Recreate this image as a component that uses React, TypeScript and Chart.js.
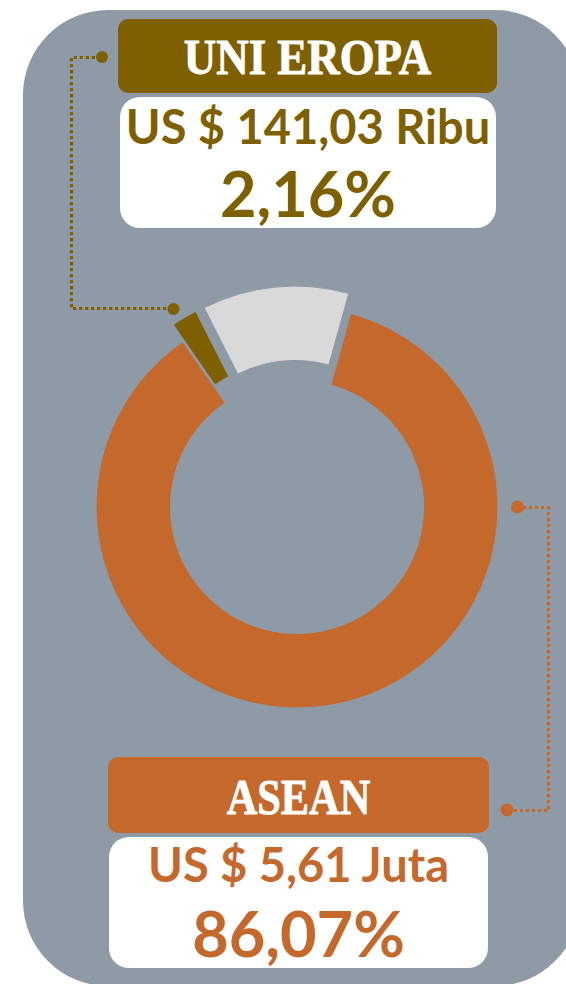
import React, { useEffect, useRef } from "react";
import { Chart, registerables } from "chart.js";

Chart.register(...registerables);

// ---- data ----
const categories = ["ASEAN", "UNI EROPA", "Lainnya"];
const shares = [86.07, 2.16, 11.77];
const valueTexts = ["US $ 5,61 Juta", "US $ 141,03 Ribu", ""];
const segmentColors = ["#C4682B", "#7F6000", "#D9D9D9"];
const explodeDistance = [0, 20, 20];

const BG = "#8F9AA7";
const fmtPct = (v: number) => v.toFixed(2).replace(".", ",") + "%";

const abs = (s: React.CSSProperties): React.CSSProperties => ({ position: "absolute", ...s });

// pulls selected slices straight out along their mid-angle (pure translation)
const explodePlugin = {
  id: "explodeSlices",
  afterDatasetUpdate(chart: any, args: any) {
    const meta = chart.getDatasetMeta(args.index);
    meta.data.forEach((el: any, i: number) => {
      const d = explodeDistance[i] || 0;
      if (!d || el.__exploded) return;
      const orig = el.draw;
      el.draw = function (ctx: CanvasRenderingContext2D) {
        const half = (this.startAngle + this.endAngle) / 2;
        ctx.save();
        ctx.translate(Math.cos(half) * d, Math.sin(half) * d);
        orig.call(this, ctx);
        ctx.restore();
      };
      el.__exploded = true;
    });
  },
};

function Doughnut() {
  const ref = useRef<HTMLCanvasElement | null>(null);
  useEffect(() => {
    if (!ref.current) return;
    const chart = new Chart(ref.current, {
      type: "doughnut",
      data: {
        labels: categories,
        datasets: [
          {
            data: shares,
            backgroundColor: segmentColors,
            borderWidth: [1, 2, 1],
            borderColor: BG,
            borderJoinStyle: "miter",
            hoverOffset: 0,
          },
        ],
      },
      options: {
        animation: false,
        responsive: true,
        maintainAspectRatio: false,
        events: [],
        rotation: 15.5,
        cutout: "63%",
        radius: 201,
        layout: { padding: 0 },
        plugins: { legend: { display: false }, tooltip: { enabled: false } },
      } as any,
      plugins: [explodePlugin as any],
    });
    chart.draw();
    return () => chart.destroy();
  }, []);
  return (
    <div style={abs({ left: 47, top: 257, width: 500, height: 500 })}>
      <canvas ref={ref} />
    </div>
  );
}

function TitleBox(props: { text: string; left: number; top: number; width: number; height: number; color: string; baseline: number; scale: number }) {
  const fs = 51;
  return (
    <>
      <div style={abs({ left: props.left, top: props.top, width: props.width, height: props.height, background: props.color, borderRadius: 10 })} />
      <div
        style={abs({
          left: props.left,
          width: props.width,
          top: props.baseline - 0.8375 * fs,
          fontFamily: "'Liberation Serif', serif",
          fontWeight: 700,
          fontSize: fs,
          lineHeight: `${fs}px`,
          color: "#FFFFFF",
          WebkitTextStroke: "0.9px #FFFFFF",
          textAlign: "center",
          whiteSpace: "nowrap",
          transform: `scaleX(${props.scale})`,
          transformOrigin: "center",
        } as React.CSSProperties)}
      >
        {props.text}
      </div>
    </>
  );
}

function ValueBox(props: { value: string; pct: string; left: number; top: number; width: number; height: number; color: string; base1: number; base2: number }) {
  const f1 = 47;
  const f2 = 63;
  const txt = (fs: number, base: number): React.CSSProperties =>
    abs({
      left: props.left,
      width: props.width,
      top: base - 0.887 * fs,
      fontFamily: "Lato, sans-serif",
      fontWeight: 700,
      fontSize: fs,
      lineHeight: `${fs}px`,
      color: props.color,
      textAlign: "center",
      whiteSpace: "nowrap",
    });
  return (
    <>
      <div style={abs({ left: props.left, top: props.top, width: props.width, height: props.height, background: "#FFFFFF", borderRadius: 20 })} />
      <div style={txt(f1, props.base1)}>{props.value}</div>
      <div style={txt(f2, props.base2)}>{props.pct}</div>
    </>
  );
}

export default function App() {
  return (
    <div style={{ position: "fixed", left: 0, top: 0, width: 566, height: 984, overflow: "hidden", background: "#FFFFFF" }}>
      <div style={abs({ left: 23, top: 10, width: 557, height: 976, background: BG, borderRadius: 85 })} />

      <svg width={566} height={984} style={abs({ left: 0, top: 0 })}>
        <polyline points="101,57.5 71.5,57.5 71.5,308.5 173,308.5" fill="none" stroke={segmentColors[1]} strokeWidth={3.2} strokeDasharray="3.2 2.8" />
        <circle cx={102} cy={57} r={6} fill={segmentColors[1]} />
        <circle cx={173.5} cy={309} r={6} fill={segmentColors[1]} />
        <polyline points="517,507.5 548.5,507.5 548.5,810.5 507,810.5" fill="none" stroke={segmentColors[0]} strokeWidth={3.2} strokeDasharray="3.2 2.8" />
        <circle cx={517.5} cy={507} r={6.5} fill={segmentColors[0]} />
        <circle cx={507} cy={810} r={6.5} fill={segmentColors[0]} />
      </svg>

      <Doughnut />

      <TitleBox text={categories[1]} left={118} top={19} width={379} height={74} color={segmentColors[1]} baseline={75} scale={0.88} />
      <ValueBox value={valueTexts[1]} pct={fmtPct(shares[1])} left={120} top={97} width={376} height={131} color={segmentColors[1]} base1={145} base2={217} />

      <TitleBox text={categories[0]} left={108} top={757} width={381} height={76} color={segmentColors[0]} baseline={815} scale={0.83} />
      <ValueBox value={valueTexts[0]} pct={fmtPct(shares[0])} left={109} top={837} width={379} height={131} color={segmentColors[0]} base1={883} base2={957} />
    </div>
  );
}
